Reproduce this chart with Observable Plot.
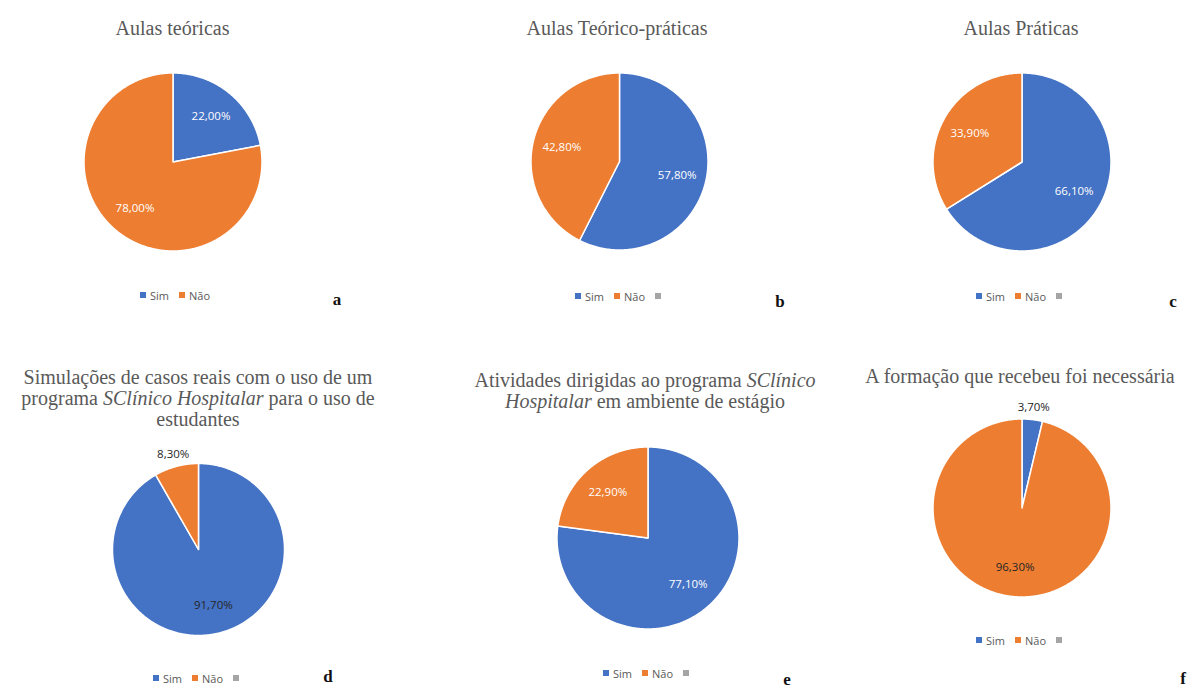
<!DOCTYPE html>
<html><head><meta charset="utf-8">
<script src="https://cdn.jsdelivr.net/npm/d3@7"></script>
<script src="https://cdn.jsdelivr.net/npm/@observablehq/plot@0.6"></script>
<style>
body{margin:0;background:#fff;}
#root{position:relative;width:1194px;height:689px;overflow:hidden;background:#fff;}
.title{position:absolute;font-family:"Liberation Serif","DejaVu Serif",serif;font-size:20px;line-height:21px;color:#595959;text-align:center;white-space:nowrap;transform:translateX(-50%);}
.legend{position:absolute;transform:translate(-50%,-50%);font-family:"Open Sans",sans-serif;font-size:11px;color:#595959;display:flex;align-items:center;white-space:nowrap;}
.sw{display:inline-block;width:6px;height:6px;margin-right:4px;}
.item{display:flex;align-items:center;margin:0 5px;height:14px;}
.letter{position:absolute;transform:translate(-50%,-50%);font-family:"Liberation Serif","DejaVu Serif",serif;font-size:17px;font-weight:bold;color:#111;}
.pie{position:absolute;}
</style></head><body><div id="root"></div>
<script>
// ---- data ----
const categories = ["Sim", "Não"];
const chartLetters = ["a", "b", "c", "d", "e", "f"];
const titles = [
  "Aulas teóricas",
  "Aulas Teórico-práticas",
  "Aulas Práticas",
  "Simulações de casos reais com o uso de um<br>programa <i>SClínico Hospitalar</i> para o uso de<br>estudantes",
  "Atividades dirigidas ao programa <i>SClínico</i><br><i>Hospitalar</i> em ambiente de estágio",
  "A formação que recebeu foi necessária"
];
const simValues = [22.0, 57.8, 66.1, 91.7, 77.1, 3.7];
const naoValues = [78.0, 42.8, 33.9, 8.3, 22.9, 96.3];
const legendHasBlank = [false, true, true, true, true, true];

// ---- layout / style (not data) ----
const colors = ["#4472C4", "#ED7D31"];
const blankColor = "#A5A5A5";
const layout = [
  {cx:172.5, cy:161, r:89,   tx:172.5, tt:18,  lx:175, ly:295, ax:337, ay:300, lc:"#ffffff"},
  {cx:618.5, cy:161, r:88.5, tx:617,   tt:18,  lx:620, ly:296, ax:780, ay:302, lc:"#ffffff"},
  {cx:1021,  cy:161, r:89,   tx:1021,  tt:18,  lx:1021,ly:296, ax:1173,ay:302, lc:"#ffffff"},
  {cx:197.5, cy:549, r:86,   tx:198,   tt:367, lx:198, ly:678, ax:328, ay:677, lc:"#262626"},
  {cx:647,   cy:537, r:91,   tx:645,   tt:370, lx:648, ly:673, ax:787, ay:680, lc:"#ffffff"},
  {cx:1021,  cy:507.5,r:89,  tx:1020,  tt:366, lx:1021,ly:640, ax:1183,ay:679, lc:"#262626"}
];

const root = document.getElementById("root");
const fmt = v => v.toFixed(2).replace(".", ",") + "%";

chartLetters.forEach((letter, i) => {
  const L = layout[i];
  const values = [simValues[i], naoValues[i]];
  const total = d3.sum(values);
  const arcs = d3.pie().sort(null).value(d => d.value)(
    categories.map((c, j) => ({cat: c, value: values[j]}))
  );
  const rows = [];
  arcs.forEach(a => {
    const n = Math.max(2, Math.ceil((a.endAngle - a.startAngle) / 0.01));
    rows.push({cat: a.data.cat, x: 0, y: 0});
    for (let k = 0; k <= n; k++) {
      const t = a.startAngle + (a.endAngle - a.startAngle) * k / n;
      rows.push({cat: a.data.cat, x: Math.sin(t), y: Math.cos(t)});
    }
  });
  const labels = arcs.map(a => {
    const mid = (a.startAngle + a.endAngle) / 2;
    const frac = a.data.value / total;
    const rr = frac < 0.1 ? 1.14 : 0.67;
    return {x: rr * Math.sin(mid), y: rr * Math.cos(mid), text: fmt(a.data.value),
            outside: frac < 0.1};
  });
  const S = Math.round(L.r * 2.6);
  const half = S / 2 / L.r;
  const plot = Plot.plot({
    width: S, height: S, margin: 0,
    x: {domain: [-half, half], axis: null},
    y: {domain: [-half, half], axis: null},
    color: {domain: categories, range: colors},
    style: {background: "transparent", overflow: "visible"},
    marks: [
      Plot.line(rows, {x: "x", y: "y", z: "cat", fill: "cat", stroke: "white",
        strokeWidth: 1.5, strokeLinejoin: "round", curve: "linear-closed"}),
      Plot.text(labels, {x: "x", y: "y", text: "text",
        fill: d => d.outside ? "#262626" : L.lc,
        fontSize: 11.5, fontWeight: 500, fontFamily: "Open Sans"})
    ]
  });
  plot.classList.add("pie");
  plot.style.left = (L.cx - S / 2) + "px";
  plot.style.top = (L.cy - S / 2) + "px";
  root.appendChild(plot);

  const t = document.createElement("div");
  t.className = "title";
  t.innerHTML = titles[i];
  t.style.left = L.tx + "px";
  t.style.top = L.tt + "px";
  root.appendChild(t);

  const lg = document.createElement("div");
  lg.className = "legend";
  lg.style.left = L.lx + "px";
  lg.style.top = L.ly + "px";
  categories.forEach((c, j) => {
    const it = document.createElement("span");
    it.className = "item";
    it.innerHTML = `<span class="sw" style="background:${colors[j]}"></span>${c}`;
    lg.appendChild(it);
  });
  if (legendHasBlank[i]) {
    const it = document.createElement("span");
    it.className = "item";
    it.innerHTML = `<span class="sw" style="background:${blankColor}"></span>`;
    lg.appendChild(it);
  }
  root.appendChild(lg);

  const le = document.createElement("div");
  le.className = "letter";
  le.textContent = letter;
  le.style.left = L.ax + "px";
  le.style.top = L.ay + "px";
  root.appendChild(le);
});
</script>
</body></html>
